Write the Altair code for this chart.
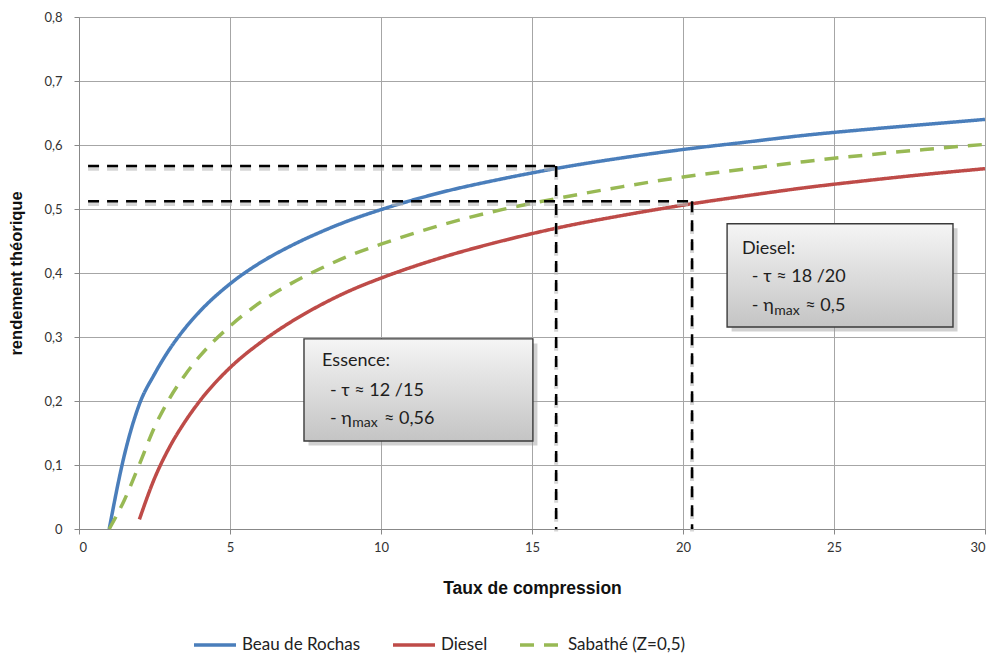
import altair as alt
import pandas as pd

# ---- curve data ----
series_names = ["Beau de Rochas", "Diesel", "Sabathé (Z=0,5)"]
series_colors = ["#4a7ebb", "#be4b48", "#98b954"]

tau_bdr = [1, 1.5, 2, 2.5, 3, 3.5, 4, 5, 6, 7, 8, 9, 10, 12, 14, 16, 18, 20, 22, 24, 26, 28, 30]
eta_bdr = [0, 0.115, 0.195, 0.242, 0.281, 0.313, 0.340, 0.383, 0.416, 0.442, 0.464, 0.483, 0.499,
           0.526, 0.547, 0.565, 0.580, 0.593, 0.604, 0.615, 0.624, 0.632, 0.640]
tau_die = [2, 2.5, 3, 3.5, 4, 5, 6, 7, 8, 9, 10, 12, 14, 16, 18, 20, 22, 24, 26, 28, 30]
eta_die = [0.015, 0.079, 0.128, 0.167, 0.200, 0.252, 0.291, 0.323, 0.350, 0.373, 0.392,
           0.424, 0.450, 0.472, 0.490, 0.506, 0.520, 0.533, 0.544, 0.554, 0.563]
tau_sab = [1, 1.5, 2, 2.5, 3, 3.5, 4, 5, 6, 7, 8, 9, 10, 12, 14, 16, 18, 20, 22, 24, 26, 28, 30]
eta_sab = [0, 0.045, 0.101, 0.159, 0.204, 0.240, 0.270, 0.317, 0.354, 0.383, 0.407, 0.428, 0.445,
           0.475, 0.499, 0.518, 0.535, 0.550, 0.562, 0.574, 0.584, 0.593, 0.601]

# ---- dashed guide lines ----
guide_x = [0.3, 15.8, 0.3, 20.3]
guide_x2 = [15.8, 15.8, 20.3, 20.3]
guide_y = [0.567, 0.567, 0.512, 0.512]
guide_y2 = [0.567, 0.0, 0.512, 0.0]

# ---- annotation boxes ----
box_x = [7.45, 21.46]
box_x2 = [15.03, 28.94]
box_y = [0.297, 0.477]
box_y2 = [0.1375, 0.3156]

# ---- annotation texts ----
ann_text = ["Essence:", "- τ ≈ 12 /15", "- η", "max", "≈ 0,56",
            "Diesel:", "- τ ≈ 18 /20", "- η", "max", "≈ 0,5"]
ann_x = [8.05, 8.31, 8.31, 9.05, 10.1,
         21.95, 22.28, 22.28, 23.02, 24.05]
ann_y = [0.2625, 0.2156, 0.1719, 0.165, 0.1719,
         0.4375, 0.394, 0.348, 0.341, 0.348]
ann_size = [18, 18, 18, 14, 18, 18, 18, 18, 14, 18]

x_ticks = [0, 5, 10, 15, 20, 25, 30]
y_ticks = [0, 0.1, 0.2, 0.3, 0.4, 0.5, 0.6, 0.7, 0.8]

# ---- tables ----
curves = pd.concat([
    pd.DataFrame({"tau": tau_bdr, "eta": eta_bdr, "serie": series_names[0]}),
    pd.DataFrame({"tau": tau_die, "eta": eta_die, "serie": series_names[1]}),
    pd.DataFrame({"tau": tau_sab, "eta": eta_sab, "serie": series_names[2]}),
], ignore_index=True)

guides = pd.DataFrame({"x": guide_x, "x2": guide_x2, "y": guide_y, "y2": guide_y2})
guides_sh = guides.assign(y=guides["y"] - 0.004, y2=guides["y2"] - 0.004)
boxes = pd.DataFrame({"x": box_x, "x2": box_x2, "y": box_y, "y2": box_y2})
shadows = boxes.assign(x=boxes["x"] + 0.15, x2=boxes["x2"] + 0.15,
                       y=boxes["y"] - 0.007, y2=boxes["y2"] - 0.007)
texts = pd.DataFrame({"t": ann_text, "x": ann_x, "y": ann_y, "s": ann_size})

xscale = alt.Scale(domain=[0, 30], nice=False)
yscale = alt.Scale(domain=[0, 0.8], nice=False)

x_axis = alt.Axis(values=x_ticks, title="Taux de compression", titleFont="Liberation Sans",
                  titleFontWeight="bold", titleFontSize=17.5, titleColor="#111", titlePadding=25,
                  labelFont="Lato", labelFontSize=13, labelColor="#333", labelPadding=7,
                  tickSize=5, tickColor="#888", domainColor="#888", gridColor="#a6a6a6")
y_axis = alt.Axis(values=y_ticks, title="rendement théorique", titleFont="Liberation Sans",
                  titleFontWeight="bold", titleFontSize=16.5, titleColor="#111", titlePadding=19,
                  labelFont="Lato", labelFontSize=13, labelColor="#333", labelPadding=12,
                  labelExpr="datum.value == 0 ? '0' : replace(format(datum.value, '.1f'), '.', ',')",
                  tickSize=5, tickColor="#888", domainColor="#888", gridColor="#a6a6a6")

legend = alt.Legend(orient="none", legendX=113, legendY=605, direction="horizontal", title=None,
                    symbolType="stroke", symbolSize=1764, symbolStrokeWidth=3.5,
                    labelFont="Lato", labelFontSize=17, labelColor="#222", labelOffset=4,
                    columnPadding=25, padding=0)

lines = alt.Chart(curves).mark_line(interpolate="monotone", strokeWidth=3.5).encode(
    x=alt.X("tau:Q", scale=xscale, axis=x_axis),
    y=alt.Y("eta:Q", scale=yscale, axis=y_axis),
    color=alt.Color("serie:N", scale=alt.Scale(domain=series_names, range=series_colors), legend=legend),
    strokeDash=alt.StrokeDash("serie:N", scale=alt.Scale(domain=series_names,
                                                         range=[[1, 0], [1, 0], [14, 10]]), legend=legend),
)

guide_shadow = alt.Chart(guides_sh).mark_rule(color="#bbbbbb", strokeWidth=4, opacity=0.6,
                                              strokeDash=[11, 8]).encode(
    x=alt.X("x:Q", scale=xscale), x2="x2:Q", y=alt.Y("y:Q", scale=yscale), y2="y2:Q")
guide_lines = alt.Chart(guides).mark_rule(color="#000000", strokeWidth=2.5, strokeDash=[11, 8]).encode(
    x=alt.X("x:Q", scale=xscale), x2="x2:Q", y=alt.Y("y:Q", scale=yscale), y2="y2:Q")

shadow_rects = alt.Chart(shadows).mark_rect(fill="#9a9a9a", opacity=0.45).encode(
    x=alt.X("x:Q", scale=xscale), x2="x2:Q", y=alt.Y("y:Q", scale=yscale), y2="y2:Q")
grad = alt.LinearGradient(gradient="linear", x1=0, y1=0, x2=0, y2=1,
                          stops=[alt.GradientStop(color="#f5f5f5", offset=0),
                                 alt.GradientStop(color="#c4c4c4", offset=1)])
box_rects = alt.Chart(boxes).mark_rect(fill=grad, stroke="#3a3a3a", strokeWidth=1.4).encode(
    x=alt.X("x:Q", scale=xscale), x2="x2:Q", y=alt.Y("y:Q", scale=yscale), y2="y2:Q")

text_marks = alt.Chart(texts).mark_text(align="left", baseline="middle", font="Lato", color="#1e1e1e").encode(
    x=alt.X("x:Q", scale=xscale), y=alt.Y("y:Q", scale=yscale), text="t:N",
    size=alt.Size("s:Q", scale=None, legend=None))

chart = alt.layer(lines, guide_shadow, guide_lines, shadow_rects, box_rects, text_marks).properties(
    width=906, height=512,
    autosize=alt.AutoSizeParams(type="none"),
    padding={"left": 71, "top": 9, "right": 4, "bottom": 127},
).configure_view(stroke=None).configure(background="white")

chart.save("out.html", embed_options={"renderer": "svg", "actions": False})
